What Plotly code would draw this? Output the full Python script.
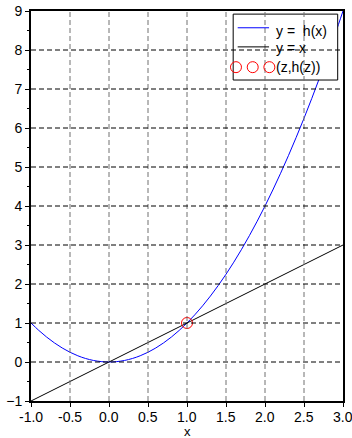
import plotly.graph_objects as go

# Curve y = h(x), sampled every 0.1 on [-1, 3]
x_vals = [-1.0, -0.9, -0.8, -0.7, -0.6, -0.5, -0.4, -0.3, -0.2, -0.1,
          0.0, 0.1, 0.2, 0.3, 0.4, 0.5, 0.6, 0.7, 0.8, 0.9,
          1.0, 1.1, 1.2, 1.3, 1.4, 1.5, 1.6, 1.7, 1.8, 1.9,
          2.0, 2.1, 2.2, 2.3, 2.4, 2.5, 2.6, 2.7, 2.8, 2.9, 3.0]
h_vals = [1.00, 0.81, 0.64, 0.49, 0.36, 0.25, 0.16, 0.09, 0.04, 0.01,
          0.00, 0.01, 0.04, 0.09, 0.16, 0.25, 0.36, 0.49, 0.64, 0.81,
          1.00, 1.21, 1.44, 1.69, 1.96, 2.25, 2.56, 2.89, 3.24, 3.61,
          4.00, 4.41, 4.84, 5.29, 5.76, 6.25, 6.76, 7.29, 7.84, 8.41, 9.00]

# Line y = x
diag_x = [-1.0, 3.0]
diag_y = [-1.0, 3.0]

# Fixed point z with h(z) = z
z_x = [1.0]
z_y = [1.0]

x_ticks = [-1.0, -0.5, 0.0, 0.5, 1.0, 1.5, 2.0, 2.5, 3.0]
x_tick_text = ["-1.0", "-0.5", "0.0", "0.5", "1.0", "1.5", "2.0", "2.5", "3.0"]
y_ticks = [-1, 0, 1, 2, 3, 4, 5, 6, 7, 8, 9]

legend_labels = ["y =\u00a0 h(x)", "y = x", "(z,h(z))"]
x_title = "x"

FONT = "Liberation Sans, Arial, sans-serif"

fig = go.Figure()
fig.add_trace(go.Scatter(x=x_vals, y=h_vals, mode="lines", line_shape="spline",
                         line=dict(color="#0000ff", width=1)))
fig.add_trace(go.Scatter(x=diag_x, y=diag_y, mode="lines",
                         line=dict(color="#000000", width=1)))
fig.add_trace(go.Scatter(x=z_x, y=z_y, mode="markers",
                         marker=dict(symbol="circle-open", size=11,
                                     line=dict(color="#ff0000", width=1),
                                     color="#ff0000")))

shapes = []
# legend box (opaque, above the curves, below the grid)
box = dict(x0=0.648, x1=0.983, y0=0.823, y1=0.992)
shapes.append(dict(type="rect", xref="paper", yref="paper", layer="above",
                   fillcolor="white", line=dict(color="black", width=1), **box))

# dashed grid drawn over everything
for xv in x_ticks[1:-1]:
    shapes.append(dict(type="line", xref="x", yref="paper", x0=xv, x1=xv, y0=0, y1=1,
                       layer="above", line=dict(color="#707070", width=1, dash="5px,3px")))
for yv in y_ticks[1:-1]:
    shapes.append(dict(type="line", xref="paper", yref="y", x0=0, x1=1, y0=yv, y1=yv,
                       layer="above", line=dict(color="#000000", width=1, dash="5px,3px")))

# legend samples
row_y = [0.957, 0.908, 0.856]
text_y = [0.949, 0.906, 0.856]
shapes.append(dict(type="line", xref="paper", yref="paper", x0=0.6625, x1=0.763,
                   y0=row_y[0], y1=row_y[0], layer="above",
                   line=dict(color="#0000ff", width=1)))
shapes.append(dict(type="line", xref="paper", yref="paper", x0=0.6625, x1=0.763,
                   y0=row_y[1], y1=row_y[1], layer="above",
                   line=dict(color="#000000", width=1)))
for cx in [0.657, 0.7106, 0.764]:
    shapes.append(dict(type="circle", xref="paper", yref="paper", layer="above",
                       xsizemode="pixel", ysizemode="pixel",
                       xanchor=cx, yanchor=row_y[2],
                       x0=-5.5, x1=5.5, y0=-5.5, y1=5.5,
                       line=dict(color="#ff0000", width=1)))

annotations = []
for lbl, ty in zip(legend_labels, text_y):
    annotations.append(dict(text=lbl, xref="paper", yref="paper", x=0.783, y=ty,
                            xanchor="left", yanchor="middle", showarrow=False,
                            xshift=-1, font=dict(family=FONT, size=14, color="black")))
# x tick labels, placed on the x scale below the axis
for tv, tt in zip(x_ticks, x_tick_text):
    annotations.append(dict(text=tt, xref="x", yref="paper", x=tv, y=-0.041,
                            xanchor="center", yanchor="middle", showarrow=False,
                            font=dict(family=FONT, size=14, color="black")))
# axis title below the tick labels
annotations.append(dict(text=x_title, xref="paper", yref="paper", x=0.5, y=-0.077,
                        xanchor="center", yanchor="middle", showarrow=False,
                        borderpad=0,
                        font=dict(family=FONT, size=13, color="black")))

axis_common = dict(showline=True, linecolor="black", linewidth=2, mirror=True,
                   showgrid=False, zeroline=False, ticks="outside", automargin=False,
                   tickcolor="black", tickwidth=1, ticklen=4,
                   tickfont=dict(family=FONT, size=14, color="black"))

fig.update_layout(
    width=352, height=438,
    margin=dict(l=31, r=9, t=11, b=37),
    paper_bgcolor="white", plot_bgcolor="white",
    showlegend=False,
    shapes=shapes, annotations=annotations,
    xaxis=dict(range=[-1, 3], tickvals=x_ticks, showticklabels=False, **axis_common),
    yaxis=dict(range=[-1, 9], tickvals=y_ticks,
               minor=dict(dtick=0.5, ticks="outside", ticklen=2, tickcolor="black"),
               **axis_common),
)

fig.write_html("out.html")
